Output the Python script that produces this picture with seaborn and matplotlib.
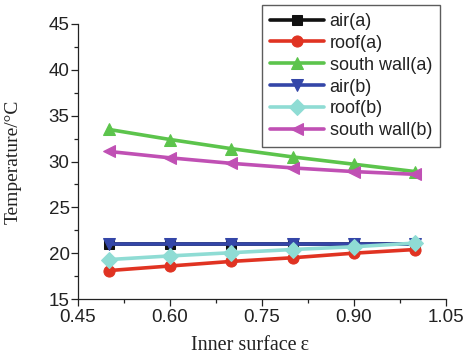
import matplotlib
matplotlib.use("Agg")
import matplotlib.pyplot as plt
import seaborn as sns
import pandas as pd
from matplotlib.ticker import MultipleLocator

# Inner surface emissivity and temperatures (°C)
emissivity = [0.5, 0.6, 0.7, 0.8, 0.9, 1.0]
air_a = [21.0, 21.0, 21.0, 21.0, 21.0, 21.0]
roof_a = [18.1, 18.6, 19.1, 19.5, 20.0, 20.4]
south_wall_a = [33.5, 32.4, 31.4, 30.5, 29.7, 28.9]
air_b = [21.0, 21.0, 21.0, 21.0, 21.0, 21.0]
roof_b = [19.3, 19.7, 20.05, 20.4, 20.7, 21.1]
south_wall_b = [31.1, 30.4, 29.8, 29.3, 28.9, 28.6]

series_names = ["air(a)", "roof(a)", "south wall(a)", "air(b)", "roof(b)", "south wall(b)"]
series_values = [air_a, roof_a, south_wall_a, air_b, roof_b, south_wall_b]
colors = ["#111111", "#e03322", "#5cc44c", "#3446a8", "#8fdcd4", "#c050b4"]
markers = ["s", "o", "^", "v", "D", "<"]
marker_sizes = [7, 8, 9, 9, 8, 9]

x_ticks = [0.45, 0.60, 0.75, 0.90, 1.05]
y_ticks = [15, 20, 25, 30, 35, 40, 45]

df = pd.DataFrame(
    [(e, v, name) for name, vals in zip(series_names, series_values) for e, v in zip(emissivity, vals)],
    columns=["eps", "temp", "series"],
)

sns.set_style("ticks")
plt.rcParams["font.family"] = ["Liberation Sans", "DejaVu Sans"]

fig = plt.figure(figsize=(4.67, 3.59), dpi=100)
ax = fig.add_axes([78 / 467, 1 - 299 / 359, 368 / 467, 275 / 359])

for name, c, m, ms in zip(series_names, colors, markers, marker_sizes):
    sub = df[df["series"] == name]
    sns.lineplot(data=sub, x="eps", y="temp", ax=ax, color=c, marker=m, markersize=ms,
                 markeredgecolor=c, linewidth=2.6, label=name, clip_on=False)

ax.set_xlim(0.45, 1.05)
ax.set_ylim(15, 45)
ax.set_xticks(x_ticks)
ax.set_xticklabels([f"{t:.2f}" for t in x_ticks])
ax.set_yticks(y_ticks)
ax.xaxis.set_minor_locator(MultipleLocator(0.075))
ax.yaxis.set_minor_locator(MultipleLocator(2.5))
ax.tick_params(axis="both", which="major", direction="out", length=5, width=0.9,
               labelsize=13.5, colors="#222222", pad=1)
ax.tick_params(axis="both", which="minor", direction="out", length=3, width=0.9, colors="#222222")
ax.tick_params(axis="x", which="major", pad=2)
for side in ("top", "right"):
    ax.spines[side].set_visible(False)
for side in ("left", "bottom"):
    ax.spines[side].set_linewidth(0.9)
    ax.spines[side].set_color("#222222")

ax.set_xlabel("Inner surface\u2009ε", family=["Liberation Serif", "DejaVu Serif"], fontsize=14.5,
              color="#222222")
ax.set_ylabel("Temperature/°C", family=["Liberation Serif", "DejaVu Serif"], fontsize=14,
              color="#222222")
ax.xaxis.set_label_coords(0.467, -0.135)
ax.yaxis.set_label_coords(-0.152, 0.5)

leg = ax.legend(loc="upper left", bbox_to_anchor=(0.5, 1.07), fontsize=13, frameon=True,
                fancybox=False, edgecolor="#333333", handlelength=3.0, handletextpad=0.3,
                labelspacing=0.27, borderpad=0.45, borderaxespad=0)
leg.get_frame().set_linewidth(1.0)
for t in leg.get_texts():
    t.set_color("#222222")

fig.savefig("out.png", dpi=100)
